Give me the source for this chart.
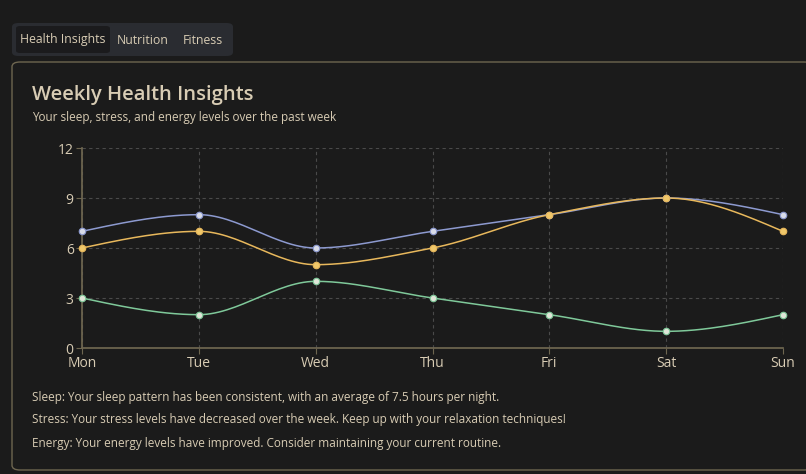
import numpy as np, pandas as pd, seaborn as sns, matplotlib
matplotlib.use("Agg")
import matplotlib.pyplot as plt
from matplotlib.patches import FancyBboxPatch

days = ["Mon","Tue","Wed","Thu","Fri","Sat","Sun"]
sleep = [7,8,6,7,8,9,8]
energy = [6,7,5,6,8,9,7]
stress = [3,2,4,3,2,1,2]
notes = ["Sleep: Your sleep pattern has been consistent, with an average of 7.5 hours per night.",
         "Stress: Your stress levels have decreased over the week. Keep up with your relaxation techniques!",
         "Energy: Your energy levels have improved. Consider maintaining your current routine."]

BG = "#1b1b1b"; TXT = "#d8ccb4"; BORDER = "#6e6650"
sns.set_theme(style="dark")
plt.rcParams['font.family'] = ['Open Sans', 'DejaVu Sans']

def monotone(y, n=30):
    y = np.asarray(y, float); x = np.arange(len(y), dtype=float)
    d = np.diff(y); m = np.zeros_like(y)
    for i in range(1, len(y)-1):
        m[i] = 0 if d[i-1]*d[i] <= 0 else 2/(1/d[i-1]+1/d[i])
    m[0] = (3*d[0]-m[1])/2; m[-1] = (3*d[-1]-m[-2])/2
    xs, ys = [], []
    for i in range(len(y)-1):
        t = np.linspace(0,1,n)
        h00=2*t**3-3*t**2+1; h10=t**3-2*t**2+t; h01=-2*t**3+3*t**2; h11=t**3-t**2
        xs.append(x[i]+t); ys.append(h00*y[i]+h10*m[i]+h01*y[i+1]+h11*m[i+1])
    return np.concatenate(xs), np.concatenate(ys)

fig = plt.figure(figsize=(8.06,4.74), dpi=100, facecolor=BG)
W,H = 806,474
def addp(p):
    p.set_zorder(-5); fig.patches.append(p)
addp(FancyBboxPatch((12/W,(H-56)/H),221/W,33/H,boxstyle="round,pad=0,rounding_size=0.008",
    transform=fig.transFigure, fc="#2a2c31", ec="none"))
addp(FancyBboxPatch((16/W,(H-53)/H),94/W,27/H,boxstyle="round,pad=0,rounding_size=0.005",
    transform=fig.transFigure, fc="#1b1b1d", ec="none"))
for x,t in [(63,"Health Insights"),(143,"Nutrition"),(203,"Fitness")]:
    fig.text(x/W,(H-40)/H,t,color=TXT,fontsize=8.8,ha="center",va="center")
addp(FancyBboxPatch((12/W,4/H),800/W,(470-62)/H,boxstyle="round,pad=0,rounding_size=0.01",
    transform=fig.transFigure, fc=BG, ec=BORDER, lw=1))
fig.text(32/W,(H-95)/H,"Weekly Health Insights",color=TXT,fontsize=14.5,fontweight="semibold",va="center")
fig.text(32/W,(H-117)/H,"Your sleep, stress, and energy levels over the past week",color=TXT,fontsize=8.5,va="center")
for i,t in enumerate(notes):
    fig.text(32/W,(H-(397+23*i))/H,t,color=TXT,fontsize=8.5,va="center")

ax = fig.add_axes([82/W,(H-348)/H,(783-82)/W,200/H])
ax.set_zorder(3)
ax.set_facecolor(BG)
for vals,col,fc in [(sleep,"#8d9ad0","#d9dce8"),(energy,"#e8b85c","#f0c86a"),(stress,"#7fc99a","#dfe6d8")]:
    xs,ys = monotone(vals)
    ax.plot(xs,ys,color=col,lw=1.1)
    df = pd.DataFrame({"x":np.arange(7),"y":vals})
    sns.scatterplot(data=df,x="x",y="y",ax=ax,color=fc,edgecolor=col,linewidth=0.8,s=22,zorder=3,legend=False,clip_on=False)
ax.set_xlim(0,6); ax.set_ylim(0,12)
ax.set_xticks(range(7)); ax.set_xticklabels(days)
ax.set_yticks([0,3,6,9,12])
ax.set_xlabel(""); ax.set_ylabel("")
ax.grid(True,color="#4a4a4a",ls=(0,(3,3)),lw=0.8)
for s in ["top","right"]: ax.spines[s].set_visible(False)
for s in ["left","bottom"]: ax.spines[s].set_color(BORDER)
ax.tick_params(colors=TXT,labelsize=10,length=4,width=0.8,color=BORDER,left=True,bottom=True,pad=2)
fig.savefig("out.png",dpi=100,facecolor=BG)
